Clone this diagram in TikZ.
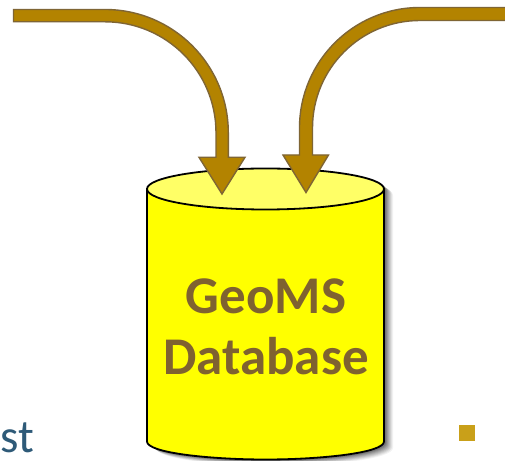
\documentclass[tikz,border=0pt]{standalone}
\usepackage{fontspec}
\setmainfont{Carlito}
\definecolor{arrowfill}{HTML}{B38300}
\definecolor{arrowline}{HTML}{7F6534}
\definecolor{labelcol}{HTML}{7F6230}
\definecolor{tealtext}{HTML}{2E5A78}
\definecolor{bullet}{HTML}{C9A019}
\definecolor{dbtop}{HTML}{FFFF66}
\definecolor{dbbody}{HTML}{FFFF00}
\tikzset{
  flowarrow/.style={fill=arrowfill,draw=arrowline,line width=1.4pt,line join=miter},
  dbline/.style={draw=black,line width=1.8pt},
  dblabel/.style={text=labelcol,font=\fontsize{53}{61}\selectfont\bfseries,align=center,inner sep=0pt}
}
\begin{document}
\begin{tikzpicture}[x=1pt,y=1pt]
\useasboundingbox (0,0) rectangle (505,460);
\clip (0,0) rectangle (505,460);
\fill[white] (0,0) rectangle (505,460);
% soft shadow
\foreach \d/\o in {9/0.05,8/0.06,7/0.07,6/0.08,5/0.09,4/0.10,3/0.12,2/0.14}{
  \fill[black,opacity=\o,shift={(\d,-\d*0.7)}]
    (147,271) arc[start angle=180,end angle=0,x radius=118.5,y radius=21]
    -- (384,18.5) .. controls (384,7) and (320,0.5) .. (265.5,0.5)
    .. controls (211,0.5) and (147,7) .. (147,18.5) -- cycle;
}
% database body
\path[dbline,fill=dbbody]
  (147,271) -- (147,18.5) .. controls (147,7) and (211,0.5) .. (265.5,0.5)
  .. controls (320,0.5) and (384,7) .. (384,18.5) -- (384,271) -- cycle;
\path[dbline,fill=dbtop] (265.5,271) ellipse[x radius=118.5,y radius=20.5];
\node[dblabel] (dblabel) at (266,133) {GeoMS\\Database};
% arrows
\path[flowarrow] (13.5,450.5) -- (105,450.5) arc[start angle=90,end angle=0,radius=123.3]
  -- (228.3,302.7) -- (245,302.7) -- (222,266) -- (199,302.7) -- (216,302.7) -- (216,327.2)
  arc[start angle=0,end angle=90,radius=111] -- (13.5,438.2) -- cycle;
\path[flowarrow] (510,452.5) -- (420,452.5) arc[start angle=90,end angle=180,radius=120.5]
  -- (299.5,305) -- (283,305) -- (306,267.5) -- (328.5,305) -- (312.5,305) -- (312.5,332)
  arc[start angle=180,end angle=90,radius=107.5] -- (510,439.5) -- cycle;
% cropped text and bullet
\node[anchor=base west,inner sep=0pt,text=tealtext,font=\fontsize{47}{47}\selectfont] (cropped) at (0,8) {st};
\node[fill=bullet,minimum size=16pt,inner sep=0pt,anchor=south west] (square) at (459,19) {};
\end{tikzpicture}
\end{document}
